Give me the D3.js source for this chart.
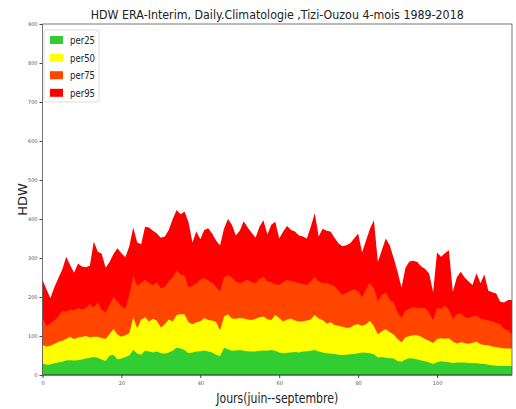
<!DOCTYPE html>
<html>
<head>
<meta charset="utf-8">
<script src="https://cdn.jsdelivr.net/npm/d3@7"></script>
<style>
  body { margin: 0; background: #fff; }
  svg { display: block; }
  .axis text { font-family: "DejaVu Sans", sans-serif; font-size: 5px; fill: #555; }
  .axis path, .axis line { stroke: #444; }
</style>
</head>
<body>
<div id="chart"></div>
<script>
// daily percentiles of HDW, June..September
var per25 = [30,26,27,30,32,34,37,38,37,38,40,42,44,46,44,40,36,50,52,40,
  42,46,50,65,55,52,63,60,58,60,56,55,58,62,70,68,64,56,58,60,
  61,63,60,58,52,48,70,66,62,63,64,62,61,60,60,62,63,62,64,62,
  58,56,57,58,59,58,60,61,62,64,60,58,56,55,54,52,51,52,53,54,
  56,58,57,56,53,45,46,44,43,42,36,34,40,43,42,40,37,35,32,28,
  33,35,34,33,31,32,32,32,31,31,30,29,28,26,25,24,23,23,23,23];
var per50 = [77,73,75,80,85,88,92,98,92,96,98,100,97,98,98,95,92,105,118,104,
  98,102,108,148,120,142,148,137,144,139,122,130,142,138,154,156,156,135,130,135,
  138,146,141,140,136,115,150,156,145,144,146,145,142,141,144,148,150,143,141,154,
  146,137,142,145,140,137,138,140,142,154,145,141,132,135,128,126,124,121,122,128,
  130,126,130,139,125,104,112,117,110,104,92,84,97,100,102,102,98,92,88,82,
  92,94,93,94,86,81,84,82,80,83,86,79,77,76,73,72,70,68,68,68];
var per75 = [148,125,132,140,150,165,162,168,166,172,168,172,182,173,186,167,160,180,200,188,
  176,170,205,254,228,236,244,236,230,238,222,226,240,250,268,258,255,225,228,235,
  245,248,242,236,226,214,250,256,250,240,235,240,244,238,235,246,252,240,238,233,
  231,238,244,240,239,236,233,231,240,252,240,235,235,232,228,216,205,210,216,220,
  214,200,220,236,222,190,205,212,192,186,160,146,165,170,174,172,172,171,160,140,
  172,170,178,168,145,155,158,148,146,150,152,145,143,140,138,133,130,118,114,104];
var per95 = [244,220,197,225,248,270,303,282,262,286,278,276,280,342,316,311,275,290,310,325,
  312,302,330,378,340,335,380,378,370,363,352,355,372,400,423,412,419,392,340,368,
  348,372,376,363,345,332,375,400,385,358,370,394,378,365,352,380,397,360,385,393,
  350,368,382,372,368,358,355,350,380,415,355,375,370,368,352,338,330,333,338,350,
  363,314,345,375,397,290,320,350,333,300,265,224,275,291,293,290,278,272,260,212,
  314,303,312,320,213,250,265,250,240,231,261,235,258,216,212,209,188,186,192,192];

var seriesNames = ["per25", "per50", "per75", "per95"];
var seriesColors = ["#32cd32", "#ffff00", "#ff4500", "#ff0000"];
var yTicks = [0,100,200,300,400,500,600,700,800,900];
var xTicks = [0,20,40,60,80,100];

var width = 516, height = 409;
var margin = { left: 42.5, right: 4, top: 24, bottom: 34 };

var svg = d3.select("#chart").append("svg")
  .attr("width", width)
  .attr("height", height);

var x = d3.scaleLinear().domain([0, per25.length - 1])
  .range([margin.left, width - margin.right]);
var y = d3.scaleLinear().domain([0, 900])
  .range([height - margin.bottom, margin.top]);

var area = d3.area()
  .x(function (d, i) { return x(i); })
  .y0(y(0))
  .y1(function (d) { return y(d); });

// widest band first so the narrower ones sit on top
var layers = [per95, per75, per50, per25];
var layerColors = [seriesColors[3], seriesColors[2], seriesColors[1], seriesColors[0]];
svg.selectAll("path.band")
  .data(layers)
  .enter()
  .append("path")
  .attr("class", "band")
  .attr("d", area)
  .attr("fill", function (d, i) { return layerColors[i]; });

svg.append("g")
  .attr("class", "axis")
  .attr("transform", "translate(" + margin.left + ",0)")
  .call(d3.axisLeft(y).tickValues(yTicks).tickSize(3).tickPadding(2))
  .call(function (g) { g.select(".domain").remove(); });

svg.append("g")
  .attr("class", "axis")
  .attr("transform", "translate(0," + y(0) + ")")
  .call(d3.axisBottom(x).tickValues(xTicks).tickSize(3).tickPadding(3))
  .call(function (g) { g.select(".domain").remove(); });

// frame
svg.append("rect")
  .attr("x", margin.left)
  .attr("y", margin.top)
  .attr("width", width - margin.right - margin.left)
  .attr("height", y(0) - margin.top)
  .attr("fill", "none")
  .attr("stroke", "#555")
  .attr("stroke-width", 0.8);

svg.append("line")
  .attr("x1", margin.left).attr("x2", width - margin.right)
  .attr("y1", y(0)).attr("y2", y(0))
  .attr("stroke", "#1a5e1a").attr("stroke-width", 1.2);

// titles
var cx = (margin.left + width - margin.right) / 2;
svg.append("text")
  .attr("x", cx).attr("y", 19)
  .attr("text-anchor", "middle")
  .attr("textLength", 373).attr("lengthAdjust", "spacingAndGlyphs")
  .style("font-family", "DejaVu Sans, sans-serif")
  .style("font-size", "12px")
  .style("fill", "#222")
  .text("HDW ERA-Interim, Daily.Climatologie ,Tizi-Ouzou 4-mois 1989-2018");

svg.append("text")
  .attr("x", cx).attr("y", 403)
  .attr("text-anchor", "middle")
  .attr("textLength", 122).attr("lengthAdjust", "spacingAndGlyphs")
  .style("font-family", "DejaVu Sans, sans-serif")
  .style("font-size", "14px")
  .style("fill", "#222")
  .text("Jours(juin--septembre)");

svg.append("text")
  .attr("transform", "translate(27," + ((margin.top + y(0)) / 2) + ") rotate(-90)")
  .attr("text-anchor", "middle")
  .style("font-family", "DejaVu Sans, sans-serif")
  .style("font-size", "13px")
  .style("fill", "#222")
  .text("HDW");

// legend
var legend = svg.append("g").attr("transform", "translate(44,30)");
legend.append("rect")
  .attr("width", 55).attr("height", 72)
  .attr("rx", 2)
  .attr("fill", "#fff").attr("fill-opacity", 0.85)
  .attr("stroke", "#ddd");
var item = legend.selectAll("g.item")
  .data(seriesNames)
  .enter()
  .append("g")
  .attr("class", "item")
  .attr("transform", function (d, i) { return "translate(6," + (6 + i * 17.6) + ")"; });
item.append("rect")
  .attr("width", 13).attr("height", 8)
  .attr("fill", function (d, i) { return seriesColors[i]; });
item.append("text")
  .attr("x", 20).attr("y", 8)
  .attr("textLength", 25).attr("lengthAdjust", "spacingAndGlyphs")
  .style("font-family", "DejaVu Sans, sans-serif")
  .style("font-size", "10px")
  .style("fill", "#222")
  .text(function (d) { return d; });
</script>
</body>
</html>
